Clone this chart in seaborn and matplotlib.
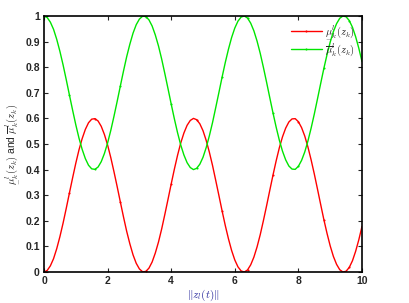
import matplotlib
matplotlib.use('Agg')
import matplotlib.pyplot as plt
import seaborn as sns
import pandas as pd

x_vals = [0.0, 0.1, 0.2, 0.3, 0.4, 0.5, 0.6, 0.7, 0.8, 0.9,
          1.0, 1.1, 1.2, 1.3, 1.4, 1.5, 1.6, 1.7, 1.8, 1.9,
          2.0, 2.1, 2.2, 2.3, 2.4, 2.5, 2.6, 2.7, 2.8, 2.9,
          3.0, 3.1, 3.2, 3.3, 3.4, 3.5, 3.6, 3.7, 3.8, 3.9,
          4.0, 4.1, 4.2, 4.3, 4.4, 4.5, 4.6, 4.7, 4.8, 4.9,
          5.0, 5.1, 5.2, 5.3, 5.4, 5.5, 5.6, 5.7, 5.8, 5.9,
          6.0, 6.1, 6.2, 6.3, 6.4, 6.5, 6.6, 6.7, 6.8, 6.9,
          7.0, 7.1, 7.2, 7.3, 7.4, 7.5, 7.6, 7.7, 7.8, 7.9,
          8.0, 8.1, 8.2, 8.3, 8.4, 8.5, 8.6, 8.7, 8.8, 8.9,
          9.0, 9.1, 9.2, 9.3, 9.4, 9.5, 9.6, 9.7, 9.8, 9.9, 10.0]
mu_lower = [0.000, 0.006, 0.024, 0.052, 0.091, 0.138, 0.191, 0.249, 0.309, 0.368,
            0.425, 0.477, 0.521, 0.557, 0.583, 0.597, 0.599, 0.590, 0.569, 0.537,
            0.496, 0.447, 0.392, 0.334, 0.274, 0.215, 0.159, 0.110, 0.067, 0.034,
            0.012, 0.001, 0.002, 0.015, 0.039, 0.074, 0.117, 0.168, 0.225, 0.284,
            0.344, 0.402, 0.456, 0.504, 0.543, 0.573, 0.592, 0.600, 0.595, 0.579,
            0.552, 0.514, 0.468, 0.416, 0.358, 0.299, 0.239, 0.182, 0.130, 0.084,
            0.047, 0.020, 0.004, 0.000, 0.008, 0.028, 0.058, 0.098, 0.146, 0.201,
            0.259, 0.319, 0.378, 0.434, 0.485, 0.528, 0.562, 0.586, 0.598, 0.599,
            0.587, 0.564, 0.531, 0.488, 0.438, 0.383, 0.324, 0.264, 0.205, 0.151,
            0.102, 0.061, 0.030, 0.009, 0.000, 0.003, 0.018, 0.044, 0.081, 0.126, 0.178]
mu_upper = [1.000, 0.994, 0.976, 0.948, 0.909, 0.862, 0.809, 0.751, 0.691, 0.632,
            0.575, 0.523, 0.479, 0.443, 0.417, 0.403, 0.401, 0.410, 0.431, 0.463,
            0.504, 0.553, 0.608, 0.666, 0.726, 0.785, 0.841, 0.890, 0.933, 0.966,
            0.988, 0.999, 0.998, 0.985, 0.961, 0.926, 0.883, 0.832, 0.775, 0.716,
            0.656, 0.598, 0.544, 0.496, 0.457, 0.427, 0.408, 0.400, 0.405, 0.421,
            0.448, 0.486, 0.532, 0.584, 0.642, 0.701, 0.761, 0.818, 0.870, 0.916,
            0.953, 0.980, 0.996, 1.000, 0.992, 0.972, 0.942, 0.902, 0.854, 0.799,
            0.741, 0.681, 0.622, 0.566, 0.515, 0.472, 0.438, 0.414, 0.402, 0.401,
            0.413, 0.436, 0.469, 0.512, 0.562, 0.617, 0.676, 0.736, 0.795, 0.849,
            0.898, 0.939, 0.970, 0.991, 1.000, 0.997, 0.982, 0.956, 0.919, 0.874, 0.822]

series_labels = [r'$\underset{-}{\mu}^l_k(z_k)$', r'$\overline{\mu}^l_k(z_k)$']
x_ticks = [0, 2, 4, 6, 8, 10]
y_ticks = [0, 0.1, 0.2, 0.3, 0.4, 0.5, 0.6, 0.7, 0.8, 0.9, 1]
y_ticklabels = ['0', '0.1', '0.2', '0.3', '0.4', '0.5', '0.6', '0.7', '0.8', '0.9', '1']

sns.set_style('ticks')
plt.rcParams['font.family'] = ['Liberation Sans', 'DejaVu Sans']
plt.rcParams['mathtext.fontset'] = 'cm'

df = pd.DataFrame({
    'x': x_vals * 2,
    'y': mu_lower + mu_upper,
    'series': [series_labels[0]] * len(x_vals) + [series_labels[1]] * len(x_vals),
})

fig = plt.figure(figsize=(4.09, 3.03), dpi=100)
ax = fig.add_axes([44 / 409, 1 - 272 / 303, 318 / 409, 256 / 303])

sns.lineplot(data=df, x='x', y='y', hue='series',
             palette=['#ff0000', '#00e600'], linewidth=1.0,
             marker='.', markersize=3, markeredgewidth=0, markevery=8,
             ax=ax, legend=True)

ax.set_xlim(0, 10)
ax.set_ylim(0, 1)
ax.set_xticks(x_ticks)
ax.set_yticks(y_ticks)
ax.set_yticklabels(y_ticklabels)
ax.tick_params(direction='in', length=3, width=0.8, top=True, right=True,
               labelsize=7.5, pad=3)
for lab in ax.get_xticklabels() + ax.get_yticklabels():
    lab.set_fontweight('bold')
for s in ax.spines.values():
    s.set_visible(True)
    s.set_linewidth(1.2)
    s.set_color('black')

ax.set_xlabel(r'$\Vert z_l(t)\Vert$', fontsize=8, color='#3030a0', labelpad=1)
ax.set_ylabel(r'$\underset{-}{\mu}^l_k(z_k)$ and $\overline{\mu}^l_k(z_k)$',
              fontsize=7.5, labelpad=3)

leg = ax.legend(loc='upper right', fontsize=7.5, frameon=False,
                handlelength=3.0, handletextpad=0.3, labelspacing=0.0,
                borderaxespad=0.3)

fig.savefig('out.png', dpi=100)
